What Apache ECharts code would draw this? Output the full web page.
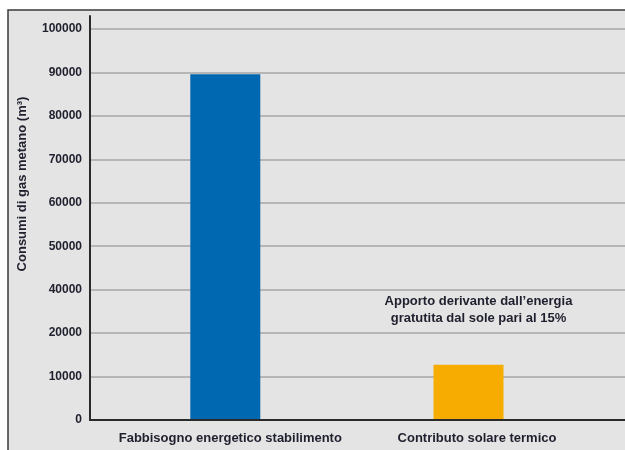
<!DOCTYPE html>
<html>
<head>
<meta charset="utf-8">
<script src="https://cdn.jsdelivr.net/npm/echarts@6/dist/echarts.min.js"></script>
<style>
  html, body { margin: 0; padding: 0; background: #ffffff; }
  #chart { width: 625px; height: 450px; }
</style>
</head>
<body>
<div id="chart"></div>
<script>
// Categories and values (m³ of methane)
const categories = ['Fabbisogno energetico stabilimento', 'Contributo solare termico'];
const consumption = [79600, 12700];
const annotations = ['', 'Apporto derivante dall\u2019energia\ngratutita dal sole pari al 15%'];
// Tick labels printed along the vertical axis, bottom to top
const tickLabels = ['0', '10000', '20000', '40000', '50000', '60000', '70000', '80000', '90000', '100000'];
const axisTitle = 'Consumi di gas metano (m\u00b3)';

const barColors = ['#0067b1', '#f6ac00'];
const FONT = "'Liberation Sans Narrow', 'Arial Narrow', 'Liberation Sans', sans-serif";
const TEXT = '#1f1f2e';

const chart = echarts.init(document.getElementById('chart'), null, { renderer: 'canvas' });

const yMax = 90000;
const tickStep = 10000;

chart.setOption({
  animation: false,
  backgroundColor: '#ffffff',
  graphic: [
    {
      type: 'rect', z: -10, silent: true,
      shape: { x: 8, y: 10, width: 700, height: 500 },
      style: { fill: '#e3e4e3', stroke: '#3a3a3a', lineWidth: 1.5 }
    },
    {
      type: 'text', z: 10, silent: true,
      x: 22, y: 184, rotation: Math.PI / 2,
      style: {
        text: axisTitle, fill: TEXT, font: 'bold 13px ' + FONT,
        align: 'center', verticalAlign: 'middle'
      }
    }
  ],
  grid: [
    // axis frame: vertical axis line with tick labels
    { left: 90, right: 0, top: 16, bottom: 30 },
    // gridlines and baseline
    { left: 90, right: 0, top: 29, bottom: 30 },
    // bars
    { left: 103.7, right: 34.9, top: 29, bottom: 30 }
  ],
  xAxis: [
    { gridIndex: 0, type: 'category', data: categories, show: false },
    {
      gridIndex: 1, type: 'category', data: categories, z: 5,
      axisLine: { show: true, lineStyle: { color: '#2a2a2a', width: 2 } },
      axisTick: { show: false }, axisLabel: { show: false }, splitLine: { show: false }
    },
    {
      gridIndex: 2, type: 'category', data: categories,
      axisLine: { show: false }, axisTick: { show: false },
      axisLabel: {
        interval: 0, hideOverlap: false, margin: 12,
        formatter: (v, i) => '{c' + i + '|' + v + '}',
        rich: {
          c0: { color: TEXT, fontFamily: FONT, fontWeight: 'bold', fontSize: 13, padding: [0, 0, 0, 10] },
          c1: { color: TEXT, fontFamily: FONT, fontWeight: 'bold', fontSize: 13, padding: [0, 0, 0, 17] }
        }
      }
    }
  ],
  yAxis: [
    {
      gridIndex: 0, type: 'value', min: 0, max: 93000, interval: tickStep,
      axisLine: { show: true, lineStyle: { color: '#2a2a2a', width: 2 } },
      axisTick: { show: false }, splitLine: { show: false },
      axisLabel: {
        margin: 8, color: TEXT, fontFamily: FONT, fontWeight: 'bold', fontSize: 12,
        showMaxLabel: false,
        formatter: v => (v % tickStep === 0 && tickLabels[v / tickStep] !== undefined) ? tickLabels[v / tickStep] : ''
      }
    },
    {
      gridIndex: 1, type: 'value', min: 0, max: yMax, interval: tickStep,
      axisLine: { show: false }, axisTick: { show: false }, axisLabel: { show: false },
      splitLine: { show: true, lineStyle: { color: '#b5b6b5', width: 2 } }
    },
    {
      gridIndex: 2, type: 'value', min: 0, max: yMax, show: false
    }
  ],
  series: [
    {
      type: 'bar', xAxisIndex: 2, yAxisIndex: 2, barWidth: 70,
      data: consumption.map((v, i) => ({
        value: v,
        itemStyle: { color: barColors[i] },
        label: annotations[i] ? {
          show: true, position: 'top', distance: 38, offset: [10, 0],
          formatter: annotations[i], color: TEXT, fontFamily: FONT,
          fontWeight: 'bold', fontSize: 13, lineHeight: 17, align: 'center'
        } : { show: false }
      }))
    }
  ]
});
</script>
</body>
</html>
